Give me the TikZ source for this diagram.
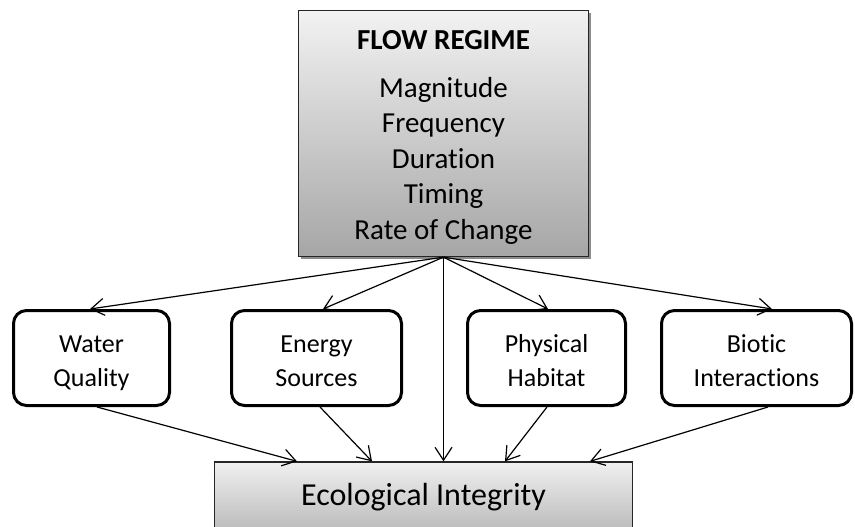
\documentclass[tikz,border=0pt]{standalone}
\usepackage{fontspec}
\setmainfont{Carlito}[Ligatures={NoCommon,NoContextual}]
\usetikzlibrary{arrows.meta,shadows}
\begin{document}
\begin{tikzpicture}[x=1pt,y=-1pt,
  topbox/.style={draw=black!85, line width=1.3pt, top color=black!5, bottom color=black!35,
    minimum width=290pt, minimum height=246pt, align=center, inner sep=0pt,
    font=\fontsize{29}{35.5}\selectfont,
    drop shadow={shadow xshift=2pt,shadow yshift=-2.5pt,fill=black!45,opacity=1}},
  midbox/.style={draw=black, line width=3pt, rounded corners=13pt, fill=white,
    minimum height=95pt, align=center, inner sep=0pt, font=\fontsize{26}{34}\selectfont},
  ecobox/.style={draw=black!85, line width=1.3pt, top color=black!6, bottom color=black!27,
    minimum width=418pt, minimum height=70pt, inner sep=0pt, font=\fontsize{32}{38}\selectfont},
  conn/.style={line width=1.2pt, -{Straight Barb[length=13pt,width=17pt,line width=1.2pt]}}
]
\useasboundingbox (0,0) rectangle (855,527);
\fill[white] (0,0) rectangle (855,527);
\begin{scope}
\clip (0,0) rectangle (855,527);
\node[topbox] (flow) at (443.5,133.5) {\rule{0pt}{27pt}\textbf{FLOW REGIME}\\[12pt]Magnitude\\Frequency\\Duration\\Timing\\Rate of Change};
\node[midbox, minimum width=156pt] (wq) at (91.5,358) {\rule{0pt}{33pt}Water\\\strut Quality};
\node[midbox, minimum width=170pt] (eng) at (316.5,358) {\rule{0pt}{33pt}Energy\\\strut Sources};
\node[midbox, minimum width=158pt] (phy) at (546.5,358) {\rule{0pt}{33pt}Physical\\\strut Habitat};
\node[midbox, minimum width=190pt] (bio) at (756.5,358) {\rule{0pt}{33pt}Biotic\\\strut Interactions};
\node[ecobox] (eco) at (423.5,497) {Ecological Integrity};

\draw[conn] (flow.south) -- ([xshift=-1.5pt]wq.north);
\draw[conn] (flow.south) -- ([xshift=6.5pt]eng.north);
\draw[conn] (flow.south) -- ([xshift=1.5pt]phy.north);
\draw[conn] (flow.south) -- ([xshift=15.5pt]bio.north);
\draw[conn] (flow.south) -- (eco.north -| flow.south);
\draw[conn] ([xshift=5.5pt]wq.south) -- ([xshift=-126.5pt]eco.north);
\draw[conn] ([xshift=3.5pt]eng.south) -- ([xshift=-51.5pt]eco.north);
\draw[conn] ([xshift=0.5pt]phy.south) -- ([xshift=81.5pt]eco.north);
\draw[conn] ([xshift=11.5pt]bio.south) -- ([xshift=166.5pt]eco.north);
\end{scope}
\end{tikzpicture}
\end{document}
